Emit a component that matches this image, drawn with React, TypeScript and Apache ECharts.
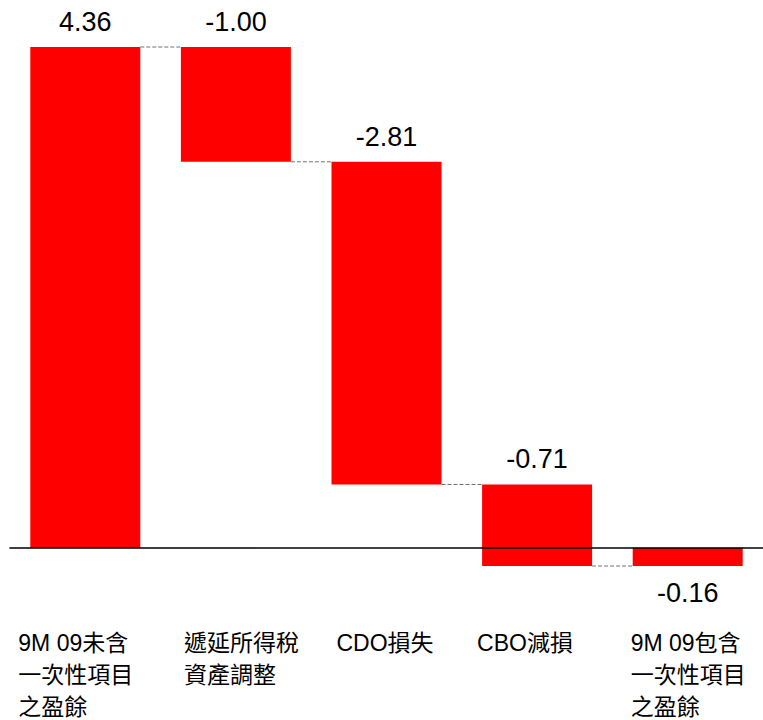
import React, { useEffect, useRef } from "react";
import * as echarts from "echarts";

const categories = [
  "9M 09未含\n一次性項目\n之盈餘",
  "遞延所得稅\n資產調整",
  "CDO損失",
  "CBO減損",
  "9M 09包含\n一次性項目\n之盈餘",
];
const changes = [4.36, -1.0, -2.81, -0.71, -0.16];
const isTotal = [true, false, false, false, true];
const valueLabels = ["4.36", "-1.00", "-2.81", "-0.71", "-0.16"];

// layout only
const labelNudge = [-67, -52, -50, -60, -57];
const FONT = "'Liberation Sans', Arial, 'Noto Sans CJK TC', sans-serif";

export default function App() {
  const ref = useRef<HTMLDivElement>(null);
  useEffect(() => {
    document.body.style.margin = "0";
    if (!ref.current) return;
    const chart = echarts.init(ref.current, null, { renderer: "svg" });

    const rows: number[][] = [];
    let run = 0;
    changes.forEach((v, i) => {
      if (isTotal[i]) {
        rows.push([i, 0, v]);
        run = v;
      } else {
        rows.push([i, run, run + v]);
        run = run + v;
      }
    });

    const BW = 110;

    chart.setOption({
      animation: false,
      grid: { left: 10, width: 755, top: 47, height: 519 },
      xAxis: {
        type: "category",
        data: categories,
        z: 10,
        axisLine: { show: true, onZero: true, lineStyle: { color: "#000", width: 1.6 } },
        axisTick: { show: false },
        axisLabel: { show: false },
        splitLine: { show: false },
      },
      yAxis: {
        type: "value",
        min: -0.16,
        max: 4.36,
        show: false,
        splitLine: { show: false },
      },
      series: [
        {
          type: "custom",
          clip: false,
          z: 2,
          data: rows,
          encode: { x: 0, y: [1, 2] },
          renderItem: (params: any, api: any) => {
            const i = api.value(0);
            const start = api.value(1);
            const end = api.value(2);
            const p1 = api.coord([i, start]);
            const p2 = api.coord([i, end]);
            const zero = api.coord([i, 0]);
            const top = Math.min(p1[1], p2[1]);
            const bottom = Math.max(p1[1], p2[1]);
            const below = isTotal[i] && changes[i] < 0;
            const children: any[] = [
              {
                type: "rect",
                shape: { x: p1[0] - BW / 2, y: top, width: BW, height: bottom - top },
                style: { fill: "#FF0000" },
              },
              {
                type: "text",
                x: p1[0],
                y: below ? bottom + 27 : top - 25,
                style: {
                  text: valueLabels[i],
                  fontSize: 27,
                  fontFamily: FONT,
                  fill: "#000",
                  align: "center",
                  verticalAlign: "middle",
                },
              },
              {
                type: "text",
                x: p1[0] + labelNudge[i],
                y: zero[1] + 79,
                style: {
                  text: categories[i],
                  fontSize: 23,
                  lineHeight: 32,
                  fontFamily: FONT,
                  fill: "#000",
                  align: "left",
                  verticalAlign: "top",
                },
              },
            ];
            if (i < rows.length - 1) {
              const next = api.coord([i + 1, end]);
              children.push({
                type: "line",
                shape: { x1: p1[0] + BW / 2, y1: p2[1], x2: next[0] - BW / 2, y2: p2[1] },
                style: { stroke: "#707070", lineWidth: 1, lineDash: [4, 2] },
              });
            }
            return { type: "group", children };
          },
        },
      ],
    });
    return () => chart.dispose();
  }, []);
  return <div ref={ref} style={{ width: 763, height: 720 }} />;
}
